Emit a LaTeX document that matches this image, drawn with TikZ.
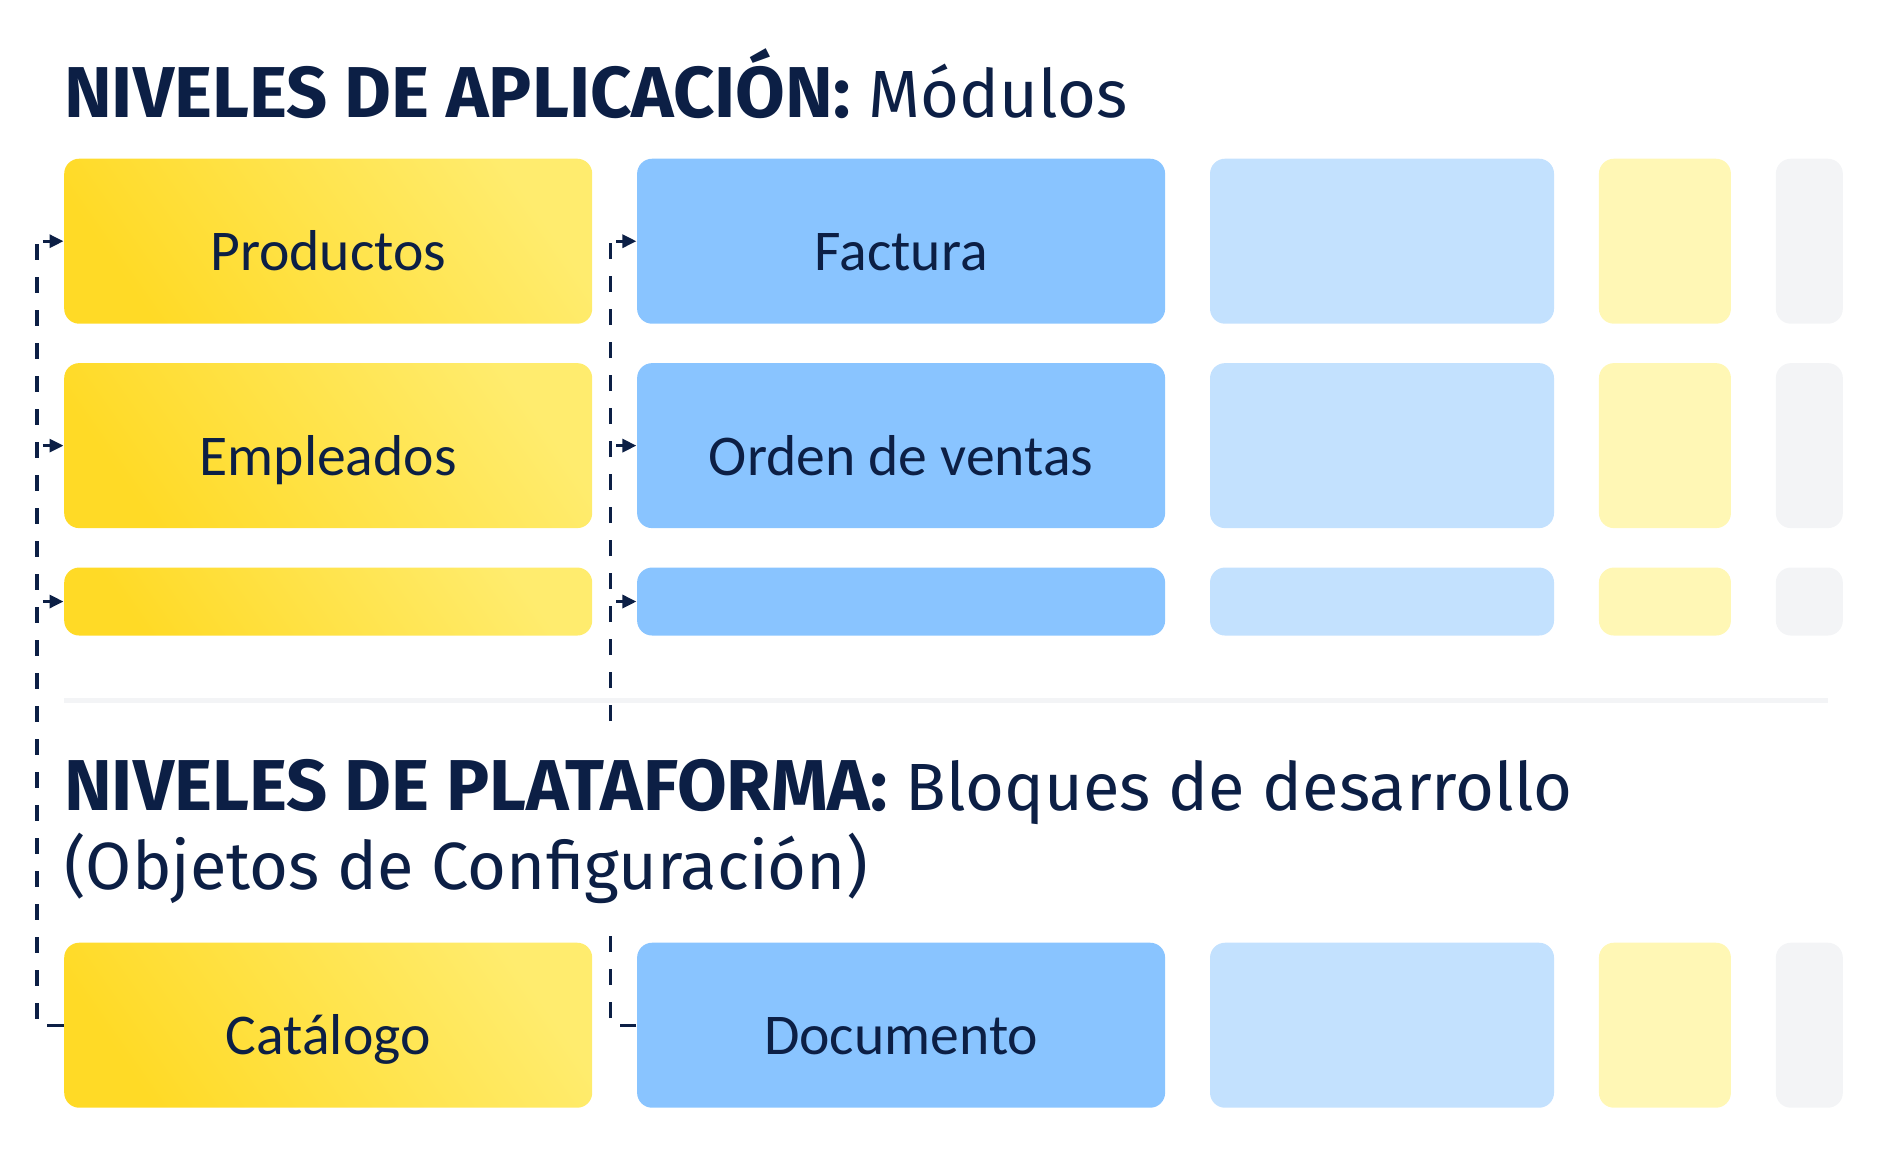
\documentclass[tikz,border=0pt]{standalone}
\usepackage{fontspec}
\setmainfont{Fira Sans}
\newfontfamily\boxfont{Carlito}
\usetikzlibrary{arrows.meta,positioning}
\definecolor{Navy}{HTML}{0C1F45}
\definecolor{YellowDeep}{HTML}{FFDA26}
\definecolor{YellowPale}{HTML}{FFEC6E}
\definecolor{Blue}{HTML}{89C4FF}
\definecolor{LightBlue}{HTML}{C3E1FE}
\definecolor{PaleYellow}{HTML}{FFF7B5}
\definecolor{Mist}{HTML}{F3F4F6}
\newcommand\headbold[1]{{\fontsize{20.5}{21}\selectfont\bfseries #1}}

\begin{document}
\begin{tikzpicture}[
  >=Latex,node distance=0.38cm and 0.435cm,
  every node/.style={text=Navy},
  title/.style={font=\fontsize{19}{22.3}\selectfont,inner sep=0pt,anchor=base west},
  modbox/.style={rounded corners=0.15cm,minimum height=1.65cm,inner sep=0pt,
    text height=0.59cm,text depth=0cm,font=\boxfont\fontsize{16.4}{19}\selectfont},
  yellowbox/.style={modbox,minimum width=5.28cm,left color=YellowDeep,right color=YellowPale,shading angle=125},
  bluebox/.style={modbox,minimum width=5.28cm,fill=Blue},
  trunk/.style={draw=Navy,line width=0.9pt,dash pattern=on 0.16cm off 0.17cm},
  stub/.style={draw=Navy,line width=0.9pt,-{Triangle[length=0.14cm,width=0.13cm]}}
]
  \useasboundingbox (0,0) rectangle (18.79,-11.65);
  \node[title] (apptitle) at (0.635,-1.17) {\headbold{NIVELES DE APLICACIÓN:} Módulos};

  % modulos
  \node[yellowbox,anchor=north west] (productos) at (0.635,-1.58) {Productos};
  \node[bluebox,right=of productos] (factura) {Factura};
  \node[yellowbox,below=of productos] (empleados) {Empleados};
  \node[bluebox,right=of empleados] (orden) {Orden de ventas};
  \node[yellowbox,below=of empleados,minimum height=0.68cm] (filaA) {};
  \node[bluebox,right=of filaA,minimum height=0.68cm] (filaB) {};

  \draw[Mist,line width=0.05cm] (0.635,-7.0) -- (18.28,-7.0);

  % bloques de desarrollo
  \node[yellowbox,anchor=north west] (catalogo) at (0.635,-9.42) {Catálogo};
  \node[bluebox,right=of catalogo] (documento) {Documento};

  \foreach \prev/\row/\h in {factura/1/1.65,orden/2/1.65,filaB/3/0.68,documento/4/1.65}{
    \node[modbox,fill=LightBlue,minimum width=3.44cm,minimum height=\h cm,right=of \prev] (lb\row) {};
    \node[modbox,fill=PaleYellow,minimum width=1.32cm,minimum height=\h cm,right=of lb\row] (ly\row) {};
    \node[modbox,fill=Mist,minimum width=0.67cm,minimum height=\h cm,right=of ly\row] (gr\row) {};
  }

  \coordinate (trunkA) at ([xshift=-0.265cm]catalogo.west);
  \coordinate (trunkB) at ([xshift=-0.26cm]documento.west);
  \draw[trunk] (catalogo.west) -- (trunkA) -- (trunkA |- productos.west);
  \draw[trunk] (documento.west) -- (trunkB) -- (trunkB |- factura.west);
  \foreach \b in {productos,empleados,filaA}
    \draw[stub] ([xshift=0.06cm]trunkA |- \b.west) -- (\b.west);
  \foreach \b in {factura,orden,filaB}
    \draw[stub] ([xshift=0.06cm]trunkB |- \b.west) -- (\b.west);

  % base anchor sits on the last line
  \node[title,align=left,fill=white,inner ysep=0.25cm] (plattitle) at (0.635,-8.89)
    {\headbold{NIVELES DE PLATAFORMA:} Bloques de desarrollo\\(Objetos de Configuración)};
\end{tikzpicture}
\end{document}
